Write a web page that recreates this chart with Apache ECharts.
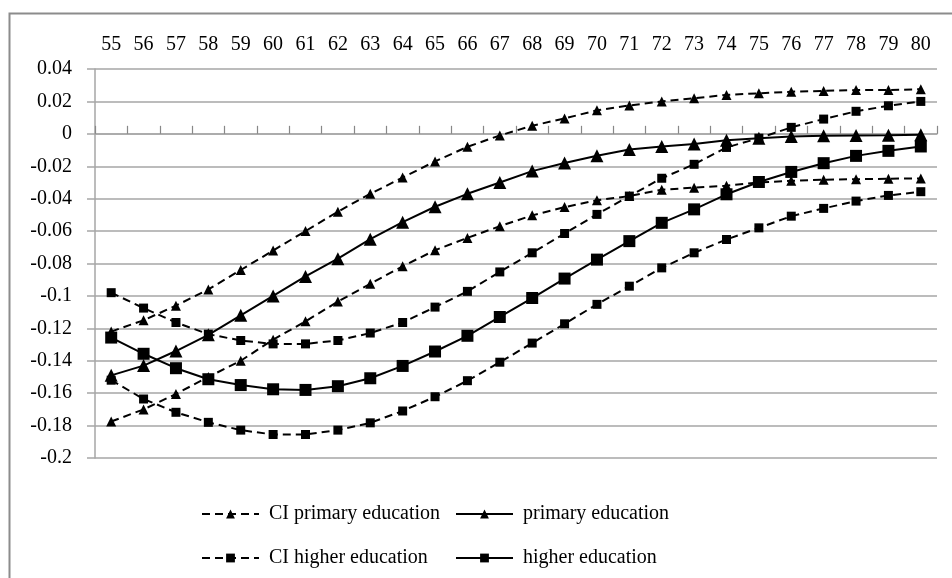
<!DOCTYPE html>
<html>
<head>
<meta charset="utf-8">
<script src="https://cdn.jsdelivr.net/npm/echarts@6/dist/echarts.min.js"></script>
<style>
  html, body { margin: 0; padding: 0; background: #fff; }
  #chart { width: 952px; height: 578px; }
</style>
</head>
<body>
<div id="chart"></div>
<script>
// Ages on the horizontal axis
const ages = ['55','56','57','58','59','60','61','62','63','64','65','66','67','68','69','70','71','72','73','74','75','76','77','78','79','80'];

// Primary education effect and its confidence band
const primaryEducation = [-0.149,-0.143,-0.134,-0.124,-0.112,-0.100,-0.088,-0.077,-0.065,-0.0545,-0.045,-0.037,-0.030,-0.023,-0.018,-0.0135,-0.0097,-0.0078,-0.0062,-0.004,-0.0027,-0.0017,-0.0012,-0.001,-0.0008,-0.0005];
const ciPrimaryUpper = [-0.122,-0.115,-0.106,-0.096,-0.084,-0.072,-0.060,-0.048,-0.037,-0.027,-0.017,-0.008,-0.001,0.005,0.0095,0.0145,0.0175,0.020,0.022,0.024,0.025,0.026,0.0265,0.027,0.027,0.0275];
const ciPrimaryLower = [-0.1775,-0.170,-0.1605,-0.150,-0.140,-0.127,-0.1157,-0.1035,-0.0925,-0.0817,-0.0718,-0.0642,-0.057,-0.0503,-0.0452,-0.041,-0.0384,-0.0345,-0.0332,-0.032,-0.030,-0.029,-0.0283,-0.028,-0.0277,-0.0275];

// Higher education effect and its confidence band
const higherEducation = [-0.1257,-0.1357,-0.1446,-0.1514,-0.155,-0.1576,-0.158,-0.1557,-0.1508,-0.1432,-0.1343,-0.1246,-0.113,-0.1013,-0.0893,-0.0776,-0.0662,-0.0549,-0.0466,-0.0373,-0.0297,-0.0235,-0.0181,-0.0136,-0.0105,-0.0078];
const ciHigherUpper = [-0.098,-0.1075,-0.1164,-0.1236,-0.1275,-0.1296,-0.1296,-0.1275,-0.1229,-0.1164,-0.1069,-0.0972,-0.0852,-0.0734,-0.0615,-0.0497,-0.0384,-0.0274,-0.0188,-0.0084,-0.0027,0.004,0.0091,0.0139,0.0173,0.020];
const ciHigherLower = [-0.152,-0.1636,-0.1718,-0.178,-0.1828,-0.1855,-0.1855,-0.1828,-0.1783,-0.171,-0.1622,-0.1523,-0.1409,-0.1291,-0.1172,-0.1052,-0.094,-0.0827,-0.0734,-0.0652,-0.058,-0.0508,-0.046,-0.0415,-0.038,-0.0357];

// Value axis range
const yMin = -0.2, yMax = 0.04, yStep = 0.02;

const FONT = '"Liberation Serif", "Times New Roman", serif';
const GRID_GRAY = '#a6a6a6';
const dash = [8, 5];

const chart = echarts.init(document.getElementById('chart'), null, { renderer: 'canvas' });

function lineSeries(name, data, symbol, size, dashed) {
  return {
    name: name,
    type: 'line',
    xAxisIndex: 0,
    data: data,
    symbol: symbol,
    symbolSize: size,
    showSymbol: true,
    smooth: false,
    animation: false,
    itemStyle: { color: '#000' },
    lineStyle: { color: '#000', width: 2, type: dashed ? dash : 'solid' },
    emphasis: { disabled: true }
  };
}

function legendAt(name, left, top) {
  return {
    data: [name],
    left: left,
    top: top,
    itemWidth: 57,
    itemHeight: 11,
    selectedMode: false,
    textStyle: { fontFamily: FONT, fontSize: 20, color: '#000', padding: [0, 0, 0, 5] }
  };
}

chart.setOption({
  animation: false,
  backgroundColor: '#fff',
  graphic: [{
    type: 'rect',
    left: 7, top: 11,
    shape: { width: 1000, height: 1000 },
    style: { fill: 'none', stroke: '#8c8c8c', lineWidth: 2 },
    silent: true
  }],
  grid: { left: 95, right: 15, top: 69, bottom: 120, containLabel: false },
  xAxis: [{
    // labels along the top edge
    type: 'category',
    data: ages,
    position: 'top',
    boundaryGap: true,
    axisLine: { show: false, onZero: false },
    axisTick: { show: false },
    axisLabel: { fontFamily: FONT, fontSize: 20, color: '#000', margin: 14, interval: 0 },
    splitLine: { show: false }
  }, {
    // axis line with tick marks running along zero
    type: 'category',
    data: ages,
    position: 'top',
    boundaryGap: true,
    axisLine: { show: true, onZero: true, lineStyle: { color: GRID_GRAY, width: 1.5 } },
    axisTick: { show: true, length: 8, inside: false, interval: 0, lineStyle: { color: '#888', width: 1.2 } },
    axisLabel: { show: false },
    splitLine: { show: false }
  }],
  yAxis: {
    type: 'value',
    min: yMin,
    max: yMax,
    interval: yStep,
    axisLine: { show: true, lineStyle: { color: GRID_GRAY, width: 1.5 } },
    axisTick: { show: true, length: 8, lineStyle: { color: GRID_GRAY, width: 1.5 } },
    axisLabel: {
      fontFamily: FONT, fontSize: 20, color: '#000', margin: 23,
      formatter: v => String(+v.toFixed(2))
    },
    splitLine: { show: true, lineStyle: { color: GRID_GRAY, width: 1.5 } }
  },
  legend: [
    legendAt('CI primary education', 196, 499),
    legendAt('primary education', 450, 499),
    legendAt('CI higher education', 196, 543),
    legendAt('higher education', 450, 543)
  ],
  series: [
    lineSeries('CI primary education', ciPrimaryUpper, 'triangle', 10, true),
    lineSeries('CI primary education', ciPrimaryLower, 'triangle', 10, true),
    lineSeries('primary education', primaryEducation, 'triangle', 13, false),
    lineSeries('CI higher education', ciHigherUpper, 'rect', 9, true),
    lineSeries('CI higher education', ciHigherLower, 'rect', 9, true),
    lineSeries('higher education', higherEducation, 'rect', 12, false)
  ]
});
</script>
</body>
</html>
